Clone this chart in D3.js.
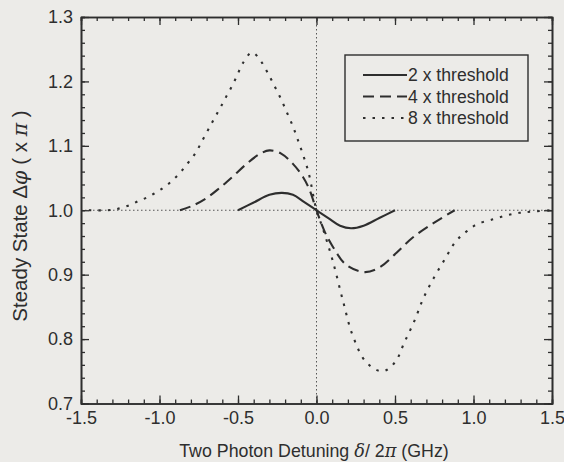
<!DOCTYPE html>
<html>
<head>
<meta charset="utf-8">
<script src="https://cdn.jsdelivr.net/npm/d3@7"></script>
<style>
  body { margin: 0; background: #ecebe8; }
  svg { display: block; font-family: "Liberation Sans", Arial, sans-serif; }
</style>
</head>
<body>
<div id="chart"></div>
<script>
// values
const xTicks = [-1.5, -1.0, -0.5, 0.0, 0.5, 1.0, 1.5];
const yTicks = [0.7, 0.8, 0.9, 1.0, 1.1, 1.2, 1.3];

const detuning2x = [-0.5, -0.4, -0.3, -0.22, -0.15, -0.08, 0, 0.08, 0.15, 0.22, 0.3, 0.4, 0.5];
const phase2x    = [1.0, 1.012, 1.024, 1.027, 1.024, 1.013, 1.0, 0.987, 0.976, 0.972, 0.976, 0.988, 1.0];

const detuning4x = [-0.87, -0.79, -0.70, -0.62, -0.535, -0.45, -0.364, -0.30, -0.225, -0.15, -0.087, -0.045, 0,
                    0.05, 0.105, 0.19, 0.306, 0.40, 0.51, 0.615, 0.745, 0.88];
const phase4x    = [1.0, 1.007, 1.019, 1.034, 1.052, 1.071, 1.087, 1.093, 1.088, 1.072, 1.052, 1.032, 1.0,
                    0.968, 0.943, 0.915, 0.904, 0.911, 0.934, 0.958, 0.980, 1.0];

const detuning8x = [-1.45, -1.33, -1.27, -1.20, -1.136, -1.07, -1.006, -0.938, -0.874, -0.82, -0.77, -0.73, -0.69,
                    -0.65, -0.613, -0.576, -0.54, -0.506, -0.47, -0.41, -0.353, -0.31, -0.268, -0.225, -0.187,
                    -0.15, -0.12, -0.087, -0.05, 0,
                    0.04, 0.105, 0.17, 0.23, 0.317, 0.42, 0.5, 0.56, 0.625, 0.68, 0.745, 0.82, 0.885, 0.95,
                    1.02, 1.125, 1.21, 1.295, 1.38, 1.5];
const phase8x    = [1.0, 1.0, 1.002, 1.007, 1.014, 1.021, 1.030, 1.042, 1.057, 1.073, 1.089, 1.107, 1.125,
                    1.143, 1.159, 1.176, 1.192, 1.209, 1.228, 1.245, 1.231, 1.213, 1.193, 1.172, 1.151,
                    1.130, 1.110, 1.087, 1.058, 1.0,
                    0.972, 0.92, 0.858, 0.806, 0.764, 0.75, 0.764, 0.795, 0.829, 0.863, 0.894, 0.925, 0.951, 0.966,
                    0.978, 0.986, 0.992, 0.996, 0.998, 1.0];

const seriesNames = ["2 x threshold", "4 x threshold", "8 x threshold"];

const series = [
    {name: seriesNames[0], xs: detuning2x, ys: phase2x, dash: null},
    {name: seriesNames[1], xs: detuning4x, ys: phase4x, dash: "11,6"},
    {name: seriesNames[2], xs: detuning8x, ys: phase8x, dash: "2.5,7"}
];

const W = 564, H = 462;
const margin = {top: 17, right: 12, bottom: 58.5, left: 81};
const width = W - margin.left - margin.right;
const height = H - margin.top - margin.bottom;
const ink = "#2e2e2e";

const svg = d3.select("#chart").append("svg")
    .attr("width", W)
    .attr("height", H);

const g = svg.append("g")
    .attr("transform", `translate(${margin.left},${margin.top})`);

const xScale = d3.scaleLinear().domain([-1.5, 1.5]).range([0, width]);
const yScale = d3.scaleLinear().domain([0.7, 1.3]).range([height, 0]);

// plain hyphen for negatives, like the original
const fmt = d => d3.format(".1f")(d).replace("−", "-");

// reference lines at phase 1 and zero detuning
g.append("line")
    .attr("x1", 0).attr("x2", width)
    .attr("y1", yScale(1.0)).attr("y2", yScale(1.0))
    .attr("stroke", "#555").attr("stroke-width", 1)
    .attr("stroke-dasharray", "1.5,2.5");
g.append("line")
    .attr("x1", xScale(0)).attr("x2", xScale(0))
    .attr("y1", 0).attr("y2", height)
    .attr("stroke", "#555").attr("stroke-width", 1)
    .attr("stroke-dasharray", "1.5,2.5");

// minor ticks
const xMinor = d3.range(-1.5, 1.5001, 0.1).map(v => +v.toFixed(2));
const yMinor = d3.range(0.7, 1.3001, 0.02).map(v => +v.toFixed(2));

function styleAxis(sel) {
    sel.selectAll("path").attr("stroke", ink).attr("stroke-width", 1.6);
    sel.selectAll("line").attr("stroke", ink).attr("stroke-width", 1.3);
    sel.selectAll("text").attr("fill", ink).attr("font-size", 18);
}

g.append("g").attr("transform", `translate(0,${height})`)
    .call(d3.axisBottom(xScale).tickValues(xMinor).tickSize(-4).tickFormat(""))
    .call(styleAxis);
g.append("g")
    .call(d3.axisTop(xScale).tickValues(xMinor).tickSize(-4).tickFormat(""))
    .call(styleAxis);
g.append("g")
    .call(d3.axisLeft(yScale).tickValues(yMinor).tickSize(-4).tickFormat(""))
    .call(styleAxis);
g.append("g").attr("transform", `translate(${width},0)`)
    .call(d3.axisRight(yScale).tickValues(yMinor).tickSize(-4).tickFormat(""))
    .call(styleAxis);

// major ticks with labels
g.append("g").attr("transform", `translate(0,${height})`)
    .call(d3.axisBottom(xScale).tickValues(xTicks).tickSize(-8).tickSizeOuter(0)
        .tickPadding(6).tickFormat(fmt))
    .call(styleAxis)
    .call(a => a.selectAll("text").attr("dy", "0.8em"));
g.append("g")
    .call(d3.axisTop(xScale).tickValues(xTicks).tickSize(-8).tickSizeOuter(0).tickFormat(""))
    .call(styleAxis);
g.append("g")
    .call(d3.axisLeft(yScale).tickValues(yTicks).tickSize(-8).tickSizeOuter(0)
        .tickPadding(8).tickFormat(fmt))
    .call(styleAxis);
g.append("g").attr("transform", `translate(${width},0)`)
    .call(d3.axisRight(yScale).tickValues(yTicks).tickSize(-8).tickSizeOuter(0).tickFormat(""))
    .call(styleAxis);

// curves
const line = d3.line()
    .x(d => xScale(d[0]))
    .y(d => yScale(d[1]))
    .curve(d3.curveCatmullRom);

g.selectAll(".curve")
    .data(series)
    .join("path")
    .attr("class", "curve")
    .attr("fill", "none")
    .attr("stroke", ink)
    .attr("stroke-width", 2.1)
    .attr("stroke-dasharray", d => d.dash)
    .attr("d", d => line(d.xs.map((x, i) => [x, d.ys[i]])));

// legend
const legend = svg.append("g").attr("transform", "translate(345,55)");
legend.append("rect")
    .attr("width", 183).attr("height", 86)
    .attr("fill", "none").attr("stroke", ink).attr("stroke-width", 1.4);

const rows = legend.selectAll(".row")
    .data(series)
    .join("g")
    .attr("class", "row")
    .attr("transform", (d, i) => `translate(0,${20 + i * 21.5})`);
rows.append("line")
    .attr("x1", 18).attr("x2", 62)
    .attr("stroke", ink).attr("stroke-width", 2.1)
    .attr("stroke-dasharray", d => d.dash);
rows.append("text")
    .attr("x", 63).attr("dy", "0.35em")
    .attr("font-size", 17.6).attr("fill", ink)
    .text(d => d.name);

// axis titles
const xTitle = svg.append("text")
    .attr("x", 314).attr("y", 456.5)
    .attr("text-anchor", "middle")
    .attr("font-size", 17.8).attr("fill", ink);
xTitle.append("tspan").text("Two Photon Detuning ");
xTitle.append("tspan").attr("font-style", "italic").attr("font-family", "DejaVu Serif").text("δ");
xTitle.append("tspan").text("/ 2");
xTitle.append("tspan").attr("font-style", "italic").attr("font-family", "DejaVu Serif").text("π");
xTitle.append("tspan").text(" (GHz)");

const yTitle = svg.append("text")
    .attr("transform", "translate(27,216) rotate(-90)")
    .attr("text-anchor", "middle")
    .attr("font-size", 20.5).attr("fill", ink);
yTitle.append("tspan").text("Steady State Δ");
yTitle.append("tspan").attr("font-style", "italic").attr("font-family", "DejaVu Serif").text("φ");
yTitle.append("tspan").text(" ( x ");
yTitle.append("tspan").attr("font-style", "italic").attr("font-family", "DejaVu Serif").text("π");
yTitle.append("tspan").text(" )");
</script>
</body>
</html>
